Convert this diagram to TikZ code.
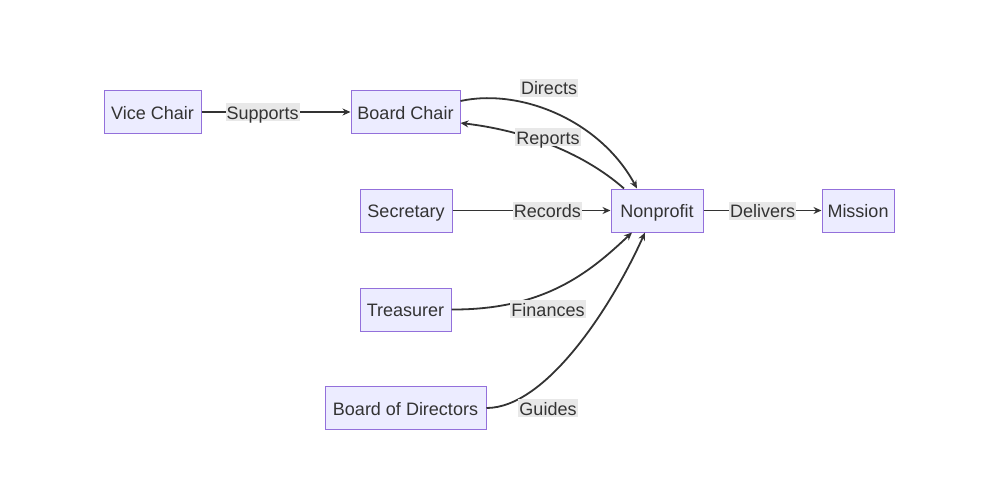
\documentclass[tikz,border=0pt]{standalone}
\usepackage{fontspec}
\setmainfont{Liberation Sans}
\usetikzlibrary{arrows.meta, calc, positioning}
\definecolor{boxFill}{HTML}{ECECFF}
\definecolor{boxLine}{HTML}{9370DB}
\definecolor{edgeLine}{HTML}{333333}
\definecolor{tagFill}{HTML}{E8E8E8}
\tikzset{
    roleBox/.style={rectangle, draw=boxLine, fill=boxFill, line width=1pt, minimum height=43pt, inner sep=0pt, text height=16pt, text depth=2pt, text=edgeLine, font=\fontsize{18}{20}\selectfont},
    flowEdge/.style={-{Stealth[length=8pt, width=7pt]}, draw=edgeLine, line width=1.8pt},
    edgeTag/.style={fill=tagFill, inner xsep=1pt, inner ysep=0pt, text height=16pt, text depth=2pt, text=edgeLine, font=\fontsize{18}{20}\selectfont},
}
\newcommand{\drawLink}[4][0.5]{
    \draw[flowEdge] (#2) -- node[edgeTag, pos=#1] {#4} (#3);
}

\begin{document}
\begin{tikzpicture}[x=1pt, y=-1pt]
    \useasboundingbox (0,0) rectangle (1000,500);

    % boxes
    \node[roleBox, minimum width=97pt] (vice) at (152.5,112) {Vice Chair};
    \node[roleBox, minimum width=109pt] (chair) at (405.5,112) {Board Chair};
    \node[roleBox, minimum width=92pt] (sec) at (406,210.5) {Secretary};
    \node[roleBox, minimum width=92pt] (np) at (657,210.5) {Nonprofit};
    \node[roleBox, minimum width=72pt] (mission) at (858,210.5) {Mission};
    \node[roleBox, minimum width=91pt] (treas) at (405.5,309.5) {Treasurer};
    \node[roleBox, minimum width=161pt] (board) at (405.5,408) {Board of Directors};

    % straight links
    \drawLink[0.41]{vice.east}{chair.west}{Supports}
    \drawLink[0.6]{sec.east}{np.west}{Records}
    \drawLink{np.east}{mission.west}{Delivers}

    % curved links
    \draw[flowEdge] ([yshift=11pt]chair.east) .. controls (520,88) and (600,120) .. ([xshift=-20pt]np.north);
    \draw[flowEdge] ([xshift=-33pt]np.north) .. controls (580,150) and (520,130) .. ([yshift=-11pt]chair.east);
    \draw[flowEdge] (treas.east) .. controls (545,310) and (590,272) .. ([xshift=-25pt]np.south);
    \draw[flowEdge] (board.east) .. controls (545,408) and (610,310) .. ([xshift=-12pt]np.south);

    % tags on the curves
    \node[edgeTag] (directsTag) at (549,88) {Directs};
    \node[edgeTag] (reportsTag) at (548,137) {Reports};
    \node[edgeTag] (financesTag) at (548,309) {Finances};
    \node[edgeTag] (guidesTag) at (548,408) {Guides};

\end{tikzpicture}
\end{document}
